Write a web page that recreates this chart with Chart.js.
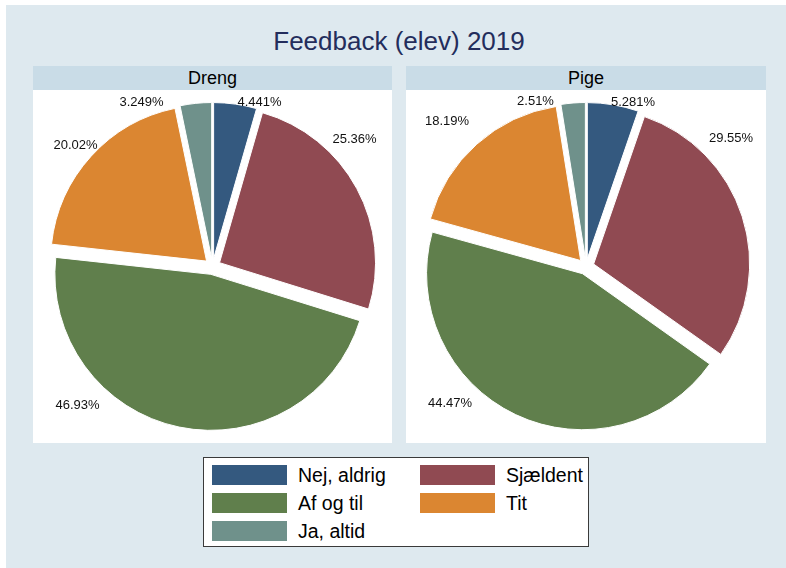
<!DOCTYPE html>
<html>
<head>
<meta charset="utf-8">
<script src="https://cdn.jsdelivr.net/npm/chart.js@4.4.1/dist/chart.umd.min.js"></script>
<style>
  html, body { margin: 0; padding: 0; background: #ffffff; }
  body { width: 786px; height: 568px; position: relative; overflow: hidden;
         font-family: "Liberation Sans", Arial, Helvetica, sans-serif; }
  #bg { position: absolute; left: 6px; top: 5px; width: 780px; height: 563px; background: #dee9ef; }
  #title { position: absolute; left: 0; top: 22px; width: 798px; text-align: center;
           font-size: 26px; color: #232d5c; line-height: 38px; }
  .hdr { position: absolute; top: 66px; height: 24px; line-height: 24px; background: #c9dce7;
         text-align: center; font-size: 18px; color: #000; }
  .plot { position: absolute; top: 90px; height: 353px; background: #ffffff; }
  #legend { position: absolute; left: 203px; top: 457px; width: 386px; height: 90px;
            background: #ffffff; border: 1px solid #3a3a3a; box-sizing: border-box; }
  .sw { position: absolute; width: 75px; height: 20px; }
  .lt { position: absolute; font-size: 19.5px; line-height: 20px; color: #000; white-space: nowrap; }
</style>
</head>
<body>
<div id="bg"></div>
<div id="title">Feedback (elev) 2019</div>
<div class="hdr" id="h1" style="left:33px;width:359px;"></div>
<div class="hdr" id="h2" style="left:406px;width:360px;"></div>
<div class="plot" style="left:33px;width:359px;"><canvas id="c1" width="359" height="353"></canvas></div>
<div class="plot" style="left:406px;width:360px;"><canvas id="c2" width="360" height="353"></canvas></div>
<div id="legend"></div>
<script>
// ---- data ----
const categories = ["Nej, aldrig", "Sjældent", "Af og til", "Tit", "Ja, altid"];
const panels = ["Dreng", "Pige"];
const valuesDreng = [4.441, 25.36, 46.93, 20.02, 3.249];
const valuesPige = [5.281, 29.55, 44.47, 18.19, 2.51];
const chartTitle = "Feedback (elev) 2019";

// ---- styles ----
const colors = ["#34597f", "#904a52", "#607f4c", "#db8631", "#6f918b"];

document.getElementById('title').textContent = chartTitle;
document.getElementById('h1').textContent = panels[0];
document.getElementById('h2').textContent = panels[1];

// legend (HTML, from categories + colors)
const leg = document.getElementById('legend');
categories.forEach((c, i) => {
  const col = i % 2, row = Math.floor(i / 2);
  const sw = document.createElement('div');
  sw.className = 'sw';
  sw.style.left = (8 + col * 208) + 'px';
  sw.style.top = (7 + row * 28) + 'px';
  sw.style.background = colors[i];
  leg.appendChild(sw);
  const t = document.createElement('div');
  t.className = 'lt';
  t.style.left = (94 + col * 208) + 'px';
  t.style.top = (7 + row * 28) + 'px';
  t.textContent = c;
  leg.appendChild(t);
});

function fmtPct(v) { return Number(v.toPrecision(4)) + '%'; }

// explode: shift each arc along its bisector
const explodePlugin = {
  id: 'explode',
  beforeDatasetsDraw(chart, args, opts) {
    const a = chart.chartArea;
    const cx = (a.left + a.right) / 2, cy = (a.top + a.bottom) / 2;
    const d = opts.distance || 0;
    chart.getDatasetMeta(0).data.forEach(el => {
      const mid = (el.startAngle + el.endAngle) / 2;
      el.x = cx + d * Math.cos(mid);
      el.y = cy + d * Math.sin(mid);
    });
  }
};

// percentage labels
const pctLabelPlugin = {
  id: 'pctLabels',
  afterDatasetsDraw(chart, args, opts) {
    const a = chart.chartArea;
    const cx = (a.left + a.right) / 2, cy = (a.top + a.bottom) / 2;
    const ctx = chart.ctx;
    const vals = chart.data.datasets[0].data;
    ctx.save();
    ctx.font = '13px "Liberation Sans", Arial, sans-serif';
    ctx.fillStyle = '#111';
    ctx.textAlign = 'center';
    ctx.textBaseline = 'middle';
    vals.forEach((v, i) => {
      const p = opts.positions[i];
      ctx.fillText(fmtPct(v), cx + p[0], cy + p[1]);
    });
    ctx.restore();
  }
};

function makePie(id, values, labelPositions) {
  return new Chart(document.getElementById(id), {
    type: 'pie',
    data: {
      labels: categories,
      datasets: [{
        data: values,
        backgroundColor: colors,
        borderColor: '#ffffff',
        borderWidth: 1,
        radius: 156
      }]
    },
    options: {
      responsive: false,
      animation: false,
      events: [],
      layout: { padding: 0 },
      plugins: {
        legend: { display: false },
        tooltip: { enabled: false },
        explode: { distance: 8 },
        pctLabels: { positions: labelPositions }
      }
    },
    plugins: [explodePlugin, pctLabelPlugin]
  });
}

makePie('c1', valuesDreng, [[47,-164.5],[142,-127.5],[-135,138.5],[-137,-121.5],[-71,-164.5]]);
makePie('c2', valuesPige, [[47,-164.5],[145,-128.5],[-136,136.8],[-139,-144.8],[-50.5,-165.5]]);
</script>
</body>
</html>
